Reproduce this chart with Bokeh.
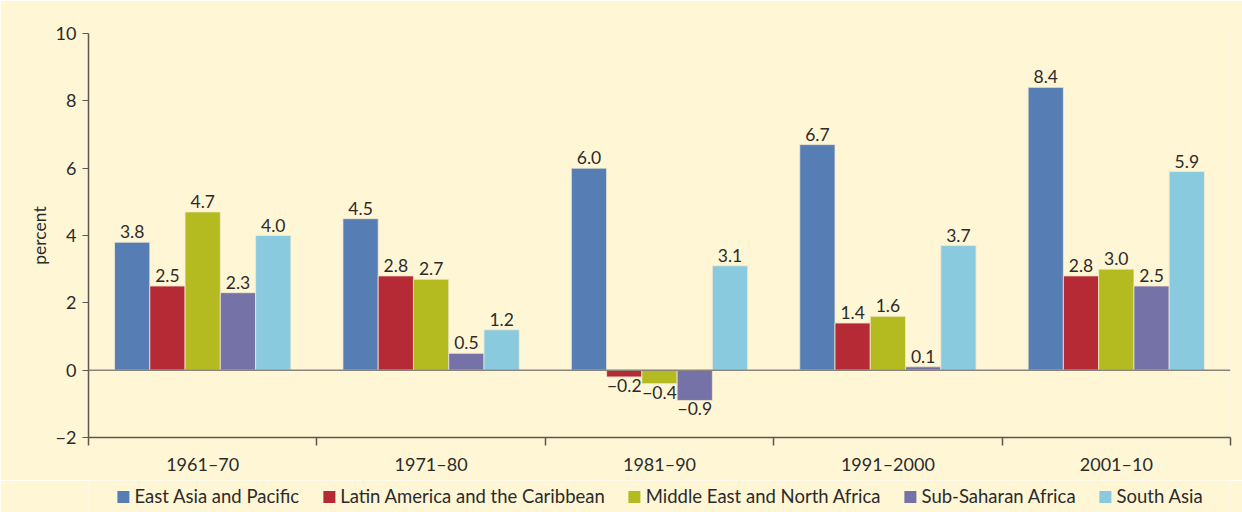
import pandas as pd
from bokeh.plotting import figure
from bokeh.layouts import column
from bokeh.models import (Range1d, FixedTicker, Span, Legend, LegendItem,
                          ColumnDataSource, LinearAxis)
from bokeh.core.properties import value
from bokeh.embed import file_html
from bokeh.resources import INLINE

periods = ["1961–70", "1971–80", "1981–90", "1991–2000", "2001–10"]
regions = ["East Asia and Pacific", "Latin America and the Caribbean",
           "Middle East and North Africa", "Sub-Saharan Africa", "South Asia"]
east_asia = [3.8, 4.5, 6.0, 6.7, 8.4]
latin_america = [2.5, 2.8, -0.2, 1.4, 2.8]
middle_east = [4.7, 2.7, -0.4, 1.6, 3.0]
sub_saharan = [2.3, 0.5, -0.9, 0.1, 2.5]
south_asia = [4.0, 1.2, 3.1, 3.7, 5.9]
series = [east_asia, latin_america, middle_east, sub_saharan, south_asia]
colors = ["#567eb5", "#b52a34", "#b3bb20", "#7472a7", "#8acadf"]
y_ticks = [-2, 0, 2, 4, 6, 8, 10]

FONT = "Lato"
TXT = "#2b2b2b"
BG = "#fff6d5"
AX = "#5d5750"

p = figure(frame_width=1142, frame_height=404,
           x_range=Range1d(0, 5), y_range=Range1d(-2, 10),
           output_backend="svg", toolbar_location=None,
           min_border_left=88, min_border_right=12, min_border_top=33,
           min_border_bottom=43, x_axis_location=None, y_axis_location=None)
p.background_fill_color = BG
p.border_fill_color = BG
p.outline_line_color = None
p.xgrid.visible = False
p.ygrid.visible = False

# legend strip (separate canvas below the chart)
lg = figure(frame_width=1142, frame_height=32, x_range=Range1d(0, 5),
            y_range=Range1d(-2, 10), output_backend="svg", toolbar_location=None,
            min_border_left=88, min_border_right=12, min_border_top=0,
            min_border_bottom=0, x_axis_location=None, y_axis_location=None)
lg.background_fill_color = BG
lg.border_fill_color = BG
lg.outline_line_color = None
lg.xgrid.visible = False
lg.ygrid.visible = False

bw = 0.1544
items = []
for j, (name, vals, col) in enumerate(zip(regions, series, colors)):
    xs = [i + 0.5 + (j - 2) * bw for i in range(len(periods))]
    df = pd.DataFrame({"x": xs, "top": vals})
    df["lab"] = [f"{v:.1f}".replace("-", "−") for v in vals]
    src = ColumnDataSource(df)
    p.vbar(x="x", top="top", bottom=0, width=bw, source=src,
           fill_color=col, line_color="#f3ead0", line_width=0.8)
    pos = ColumnDataSource(df[df.top >= 0])
    neg = ColumnDataSource(df[df.top < 0])
    p.text(x="x", y="top", text="lab", source=pos, text_align="center",
           text_baseline="bottom", y_offset=-4, text_font=value(FONT),
           text_font_size="17.5px", text_color=TXT)
    p.text(x="x", y="top", text="lab", source=neg, text_align="center",
           text_baseline="top", y_offset=2, text_font=value(FONT),
           text_font_size="17.5px", text_color=TXT)
    # legend proxy (hidden; only its legend swatch is drawn)
    r = lg.vbar(x="x", top="top", bottom=0, width=bw, source=src,
                fill_color=col, line_color=None, visible=False)
    items.append(LegendItem(label=name, renderers=[r]))

p.add_layout(Span(location=0, dimension="width", line_color="#8a847b",
                  line_width=1.5))

yax = LinearAxis(ticker=FixedTicker(ticks=y_ticks),
                 major_label_overrides={t: (str(t).replace("-", "−")) for t in y_ticks},
                 axis_label="percent")
yax.axis_line_color = AX
yax.axis_line_width = 1.5
yax.major_tick_line_color = AX
yax.major_tick_out = 6
yax.major_tick_in = 0
yax.minor_tick_line_color = None
yax.major_label_text_font = FONT
yax.major_label_text_font_size = "18px"
yax.major_label_text_color = TXT
yax.major_label_standoff = 6
yax.axis_label_text_font = FONT
yax.axis_label_text_font_size = "17.5px"
yax.axis_label_text_font_style = "normal"
yax.axis_label_text_color = TXT
yax.axis_label_standoff = 3
p.add_layout(yax, "left")

xax = LinearAxis(ticker=FixedTicker(ticks=[i + 0.5 for i in range(len(periods))],
                                    minor_ticks=list(range(len(periods) + 1))),
                 major_label_overrides={i + 0.5: s for i, s in enumerate(periods)})
xax.axis_line_color = AX
xax.axis_line_width = 1.5
xax.major_tick_line_color = None
xax.major_tick_out = 0
xax.major_tick_in = 0
xax.minor_tick_line_color = AX
xax.minor_tick_line_width = 1.5
xax.minor_tick_out = 8
xax.minor_tick_in = 0
xax.major_label_text_font = FONT
xax.major_label_text_font_size = "18px"
xax.major_label_text_color = TXT
xax.major_label_standoff = 7
p.add_layout(xax, "below")

legend = Legend(items=items, orientation="horizontal", location="center",
                background_fill_alpha=0, border_line_color=None,
                inactive_fill_alpha=0,
                label_text_font=FONT, label_text_font_size="18.5px",
                label_text_color=TXT, glyph_width=15, glyph_height=15,
                label_standoff=4, spacing=22, padding=0, margin=0)
lg.add_layout(legend, "center")

layout = column(p, lg, spacing=0)
open("out.html", "w").write(file_html(layout, INLINE))
